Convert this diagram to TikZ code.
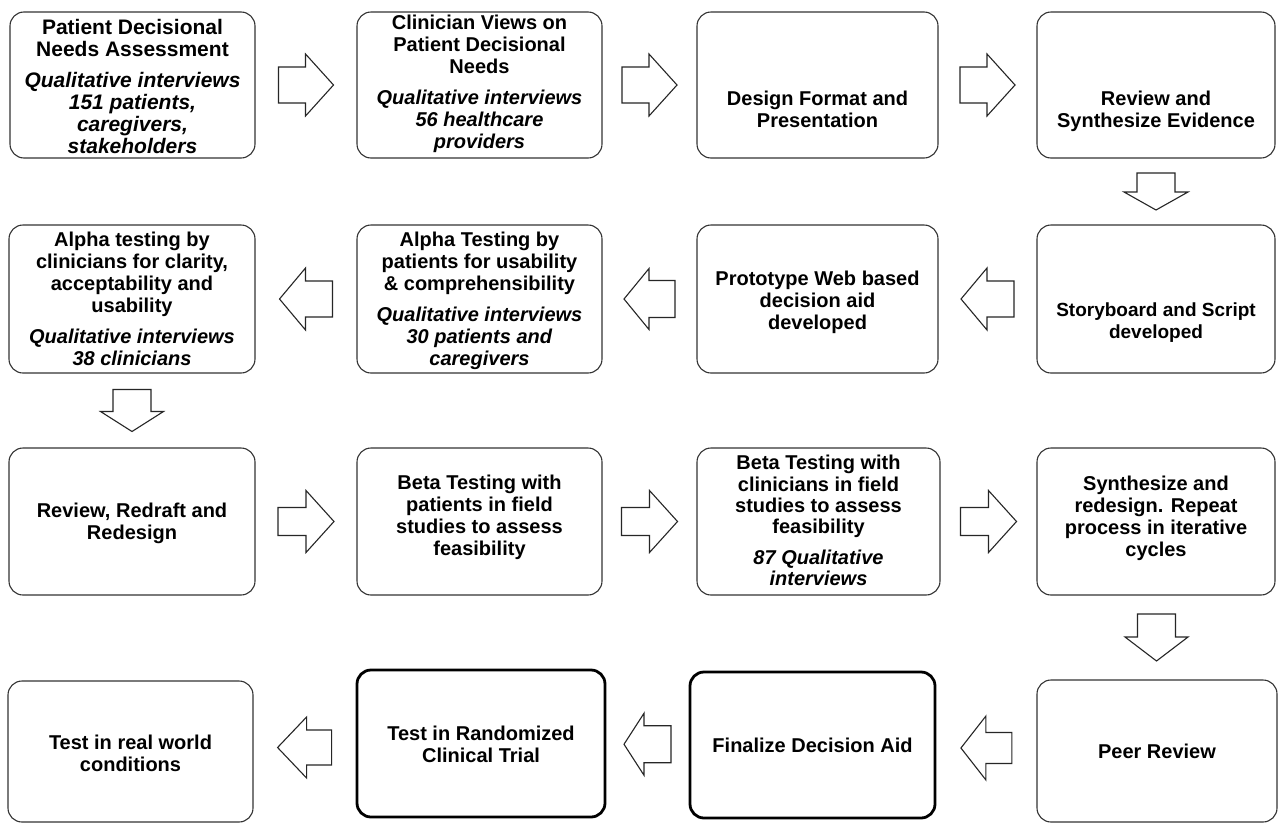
\documentclass[tikz,border=0pt]{standalone}
\usepackage{fontspec}
\setmainfont{Liberation Sans}
\usetikzlibrary{calc}

% Hollow block arrow centred on a named coordinate:
% #1 centre, #2 direction (deg), #3 total length, #4 head length, #5 shaft half-width, #6 head half-width
\newcommand\blkarrow[6]{%
  \draw[arrowline, shift={(#1)}, rotate=#2]
    (-#3/2,-#5) -- (#3/2-#4,-#5) -- (#3/2-#4,-#6) -- (#3/2,0)
    -- (#3/2-#4,#6) -- (#3/2-#4,#5) -- (-#3/2,#5) -- cycle;}

\begin{document}
\begin{tikzpicture}[x=1pt,y=-1pt,
  stepbox/.style={draw=black!80, line width=1.1pt, rounded corners=14pt, fill=white, inner sep=0pt},
  finalbox/.style={stepbox, draw=black, line width=2.8pt},
  steptext/.style={font=\fontsize{20}{22}\selectfont\bfseries, align=center, inner sep=0pt},
  arrowline/.style={draw=black!85, line width=1.1pt, fill=white, line join=miter},
]
\useasboundingbox[fill=white] (0,0) rectangle (1279,825);

% ---- row 1 ----
\node[stepbox, minimum width=245pt, minimum height=146pt] (b1) at (132.5,85) {};
\node[stepbox, minimum width=245pt, minimum height=146pt] (b2) at (479.5,85) {};
\node[stepbox, minimum width=241pt, minimum height=146pt] (b3) at (817.5,85) {};
\node[stepbox, minimum width=238pt, minimum height=146pt] (b4) at (1156,85) {};
% ---- row 2 ----
\node[stepbox, minimum width=238pt, minimum height=148pt] (b5) at (1156,299) {};
\node[stepbox, minimum width=241pt, minimum height=148pt] (b6) at (817.5,299) {};
\node[stepbox, minimum width=245pt, minimum height=148pt] (b7) at (479.5,299) {};
\node[stepbox, minimum width=246pt, minimum height=148pt] (b8) at (132,299) {};
% ---- row 3 ----
\node[stepbox, minimum width=246pt, minimum height=147pt] (b9) at (132,521.5) {};
\node[stepbox, minimum width=245pt, minimum height=147pt] (b10) at (479.5,521.5) {};
\node[stepbox, minimum width=243pt, minimum height=147pt] (b11) at (818.5,521.5) {};
\node[stepbox, minimum width=238pt, minimum height=147pt] (b12) at (1156,521.5) {};
% ---- row 4 ----
\node[stepbox, minimum width=245pt, minimum height=141pt] (b13) at (130.5,751.5) {};
\node[finalbox, minimum width=248pt, minimum height=147pt] (b14) at (481,743.5) {};
\node[finalbox, minimum width=245pt, minimum height=146pt] (b15) at (812.5,745) {};
\node[stepbox, minimum width=240pt, minimum height=142pt] (b16) at (1157,751) {};

% ---- texts ----
\node[steptext, font=\fontsize{21}{22}\selectfont\bfseries] (t1) at ([yshift=-1pt]b1.center)
  {Patient Decisional\\Needs Assessment\\[9pt]
  \textit{Qualitative interviews}\\\textit{151 patients,}\\\textit{caregivers,}\\\textit{stakeholders}};
\node[steptext] (t2) at ([yshift=1pt]b2.center) {Clinician Views on\\Patient Decisional\\Needs\\[9pt]
  \textit{Qualitative interviews}\\\textit{56 healthcare}\\\textit{providers}};
\node[steptext] (t3) at ([yshift=-24pt]b3.center) {Design Format and\\Presentation};
\node[steptext] (t4) at ([yshift=-26pt]b4.center) {Review and\\Synthesize Evidence};
\node[steptext, font=\fontsize{19}{22}\selectfont\bfseries] (t5) at ([yshift=-24pt]b5.center)
  {Storyboard and Script\\developed};
\node[steptext] (t6) at ([yshift=-3pt]b6.center) {Prototype Web based\\decision aid\\developed};
\node[steptext] (t7) at ([yshift=-2pt]b7.center) {Alpha Testing by\\patients for usability\\\& comprehensibility\\[9pt]
  \textit{Qualitative interviews}\\\textit{30 patients and}\\\textit{caregivers}};
\node[steptext] (t8) at (b8.center) {Alpha testing by\\clinicians for clarity,\\acceptability and\\usability\\[9pt]
  \textit{Qualitative interviews}\\\textit{38 clinicians}};
\node[steptext] (t9) at ([yshift=-2pt]b9.center) {Review, Redraft and\\Redesign};
\node[steptext] (t10) at ([yshift=4pt]b10.center) {Beta Testing with\\patients in field\\studies to assess\\feasibility};
\node[steptext, font=\fontsize{20}{21.4}\selectfont\bfseries] (t11) at ([yshift=1pt]b11.center)
  {Beta Testing with\\clinicians in field\\studies to assess\\feasibility\\[9pt]
  \textit{87 Qualitative}\\\textit{interviews}};
\node[steptext] (t12) at ([yshift=3pt]b12.center) {Synthesize and\\redesign. Repeat\\process in iterative\\cycles};
\node[steptext] (t13) at ([yshift=-2pt]b13.center) {Test in real world\\conditions};
\node[steptext] (t14) at ([yshift=-1pt]b14.center) {Test in Randomized\\Clinical Trial};
\node[steptext] (t15) at (b15.center) {Finalize Decision Aid};
\node[steptext] (t16) at (b16.center) {Peer Review};

% ---- arrow centres, halfway between consecutive steps ----
\coordinate (m1) at ($(b1.east)!0.5!(b2.west)$);
\coordinate (m2) at ($(b2.east)!0.5!(b3.west)$);
\coordinate (m3) at ($(b3.east)!0.5!(b4.west)$);
\coordinate (m4) at ($(b4.south)!0.5!(b5.north)$);
\coordinate (m5) at ($(b5.west)!0.5!(b6.east)$);
\coordinate (m6) at ($(b6.west)!0.5!(b7.east)$);
\coordinate (m7) at ($(b7.west)!0.5!(b8.east)$);
\coordinate (m8) at ($(b8.south)!0.5!(b9.north)$);
\coordinate (m9) at ($(b9.east)!0.5!(b10.west)$);
\coordinate (m10) at ($(b10.east)!0.5!(b11.west)$);
\coordinate (m11) at ($(b11.east)!0.5!(b12.west)$);
\coordinate (m12) at ($(b12.south)!0.5!(b16.north)$);
\coordinate (m13) at ($(b16.west)!0.5!(b15.east)$);
\coordinate (m14) at ($(b15.west)!0.5!(b14.east)$);
\coordinate (m15) at ($(b14.west)!0.5!(b13.east)$);

% ---- hollow block arrows (0 = right, 180 = left, 270 = down on the page) ----
\blkarrow{m1}{0}{55}{28}{18}{31}
\blkarrow{m2}{0}{55}{28}{18}{31}
\blkarrow{m3}{0}{55}{28}{18}{31}
\blkarrow{m4}{270}{37}{18}{19}{32}
\blkarrow{m5}{180}{53}{26}{18}{31}
\blkarrow{m6}{180}{51}{25}{18.5}{30.5}
\blkarrow{m7}{180}{53}{26}{18}{31}
\blkarrow{m8}{270}{42}{20}{19}{31.5}
\blkarrow{m9}{0}{56}{28}{14}{31}
\blkarrow{m10}{0}{56}{28}{14}{31}
\blkarrow{m11}{0}{56}{28}{14}{31}
\blkarrow{m12}{270}{47}{24}{19}{31.5}
\blkarrow{m13}{180}{51}{25}{15.5}{32}
\blkarrow{m14}{180}{47}{20}{18.5}{31}
\blkarrow{m15}{180}{54}{29}{17.5}{30.5}
\end{tikzpicture}
\end{document}
